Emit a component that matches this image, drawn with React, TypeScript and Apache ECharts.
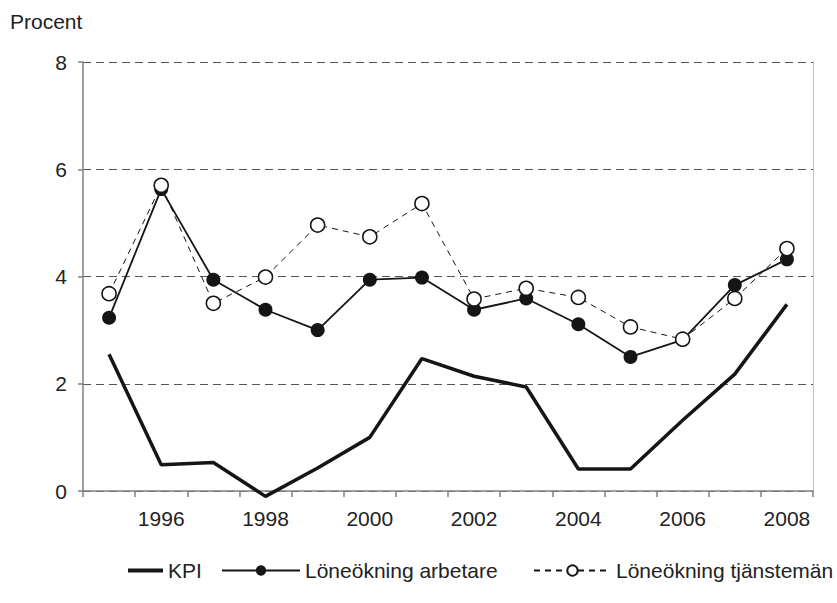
import React, { useEffect, useRef } from 'react';
import * as echarts from 'echarts';

const FONT = "'Liberation Sans', Arial, Helvetica, sans-serif";

const years = ['1995', '1996', '1997', '1998', '1999', '2000', '2001', '2002', '2003', '2004', '2005', '2006', '2007', '2008'];
const kpi = [2.55, 0.49, 0.53, -0.1, 0.43, 1.0, 2.47, 2.14, 1.94, 0.41, 0.41, 1.32, 2.18, 3.48];
const arbetare = [3.23, 5.63, 3.94, 3.38, 3.0, 3.94, 3.98, 3.38, 3.59, 3.11, 2.5, 2.82, 3.84, 4.32];
const tjansteman = [3.68, 5.7, 3.5, 3.99, 4.96, 4.74, 5.36, 3.58, 3.78, 3.61, 3.06, 2.83, 3.59, 4.52];
const yMin = 0;
const yMax = 8;
const yStep = 2;
const seriesNames = ['KPI', 'Löneökning arbetare', 'Löneökning tjänstemän'];

const INK = '#151515';
const AXIS = '#808080';
const TEXT = '#222222';

export default function App() {
  const ref = useRef<HTMLDivElement>(null);
  useEffect(() => {
    document.body.style.margin = '0';
    const chart = echarts.init(ref.current!, null, { renderer: 'svg' });
    const textStyle = { fontSize: 21, color: TEXT, fontFamily: FONT };
    chart.setOption({
      animation: false,
      backgroundColor: '#ffffff',
      textStyle: { fontFamily: FONT },
      grid: { left: 83, right: 24, top: 62, bottom: 112 },
      graphic: [
        {
          type: 'text',
          left: 10,
          top: 11,
          style: { text: 'Procent', fontSize: 21, fill: TEXT, fontFamily: FONT },
        },
      ],
      xAxis: {
        type: 'category',
        data: years,
        boundaryGap: true,
        axisLine: { show: true, lineStyle: { color: AXIS, width: 1.5 } },
        axisTick: { show: true, interval: 0, length: 6, inside: false, lineStyle: { color: AXIS, width: 1.5 } },
        axisLabel: {
          interval: (i: number) => i % 2 === 1,
          margin: 17,
          ...textStyle,
        },
        splitLine: { show: false },
      },
      yAxis: [
        {
          type: 'value',
          min: yMin,
          max: yMax,
          interval: yStep,
          axisLine: { show: true, lineStyle: { color: AXIS, width: 1.5 } },
          axisTick: { show: true, length: 5, inside: false, lineStyle: { color: AXIS, width: 1.5 } },
          axisLabel: { margin: 16, ...textStyle },
          splitLine: { show: true, lineStyle: { type: [8, 5], color: '#555555', width: 1 } },
        },
        {
          type: 'value',
          position: 'right',
          min: yMin,
          max: yMax,
          interval: yStep,
          axisLine: { show: true, lineStyle: { color: '#c0c0c0', width: 1 } },
          axisTick: { show: false },
          axisLabel: { show: false },
          splitLine: { show: false },
        },
      ],
      legend: [
        {
          data: [{ name: seriesNames[0], icon: 'rect' }],
          left: 128,
          top: 560,
          padding: 0,
          itemWidth: 35,
          itemHeight: 4,
          selectedMode: false,
          itemStyle: { color: INK },
          textStyle,
        },
        {
          data: [seriesNames[1]],
          left: 221,
          top: 560,
          padding: 0,
          itemWidth: 78,
          itemHeight: 13,
          selectedMode: false,
          textStyle,
        },
        {
          data: [seriesNames[2]],
          left: 533,
          top: 560,
          padding: 0,
          itemWidth: 77,
          itemHeight: 13,
          selectedMode: false,
          textStyle,
        },
      ],
      series: [
        {
          name: seriesNames[0],
          type: 'line',
          data: kpi,
          symbol: 'none',
          clip: false,
          itemStyle: { color: INK },
          lineStyle: { color: INK, width: 3.5 },
          z: 2,
        },
        {
          name: seriesNames[1],
          type: 'line',
          data: arbetare,
          symbol: 'circle',
          symbolSize: 14,
          itemStyle: { color: INK },
          lineStyle: { color: INK, width: 1.8 },
          z: 3,
        },
        {
          name: seriesNames[2],
          type: 'line',
          data: tjansteman,
          symbol: 'circle',
          symbolSize: 14,
          itemStyle: { color: '#ffffff', borderColor: INK, borderWidth: 1.6 },
          lineStyle: { color: INK, width: 1, type: [6, 5] },
          z: 4,
        },
      ],
    });
    return () => chart.dispose();
  }, []);
  return <div ref={ref} style={{ width: 837, height: 603 }} />;
}
